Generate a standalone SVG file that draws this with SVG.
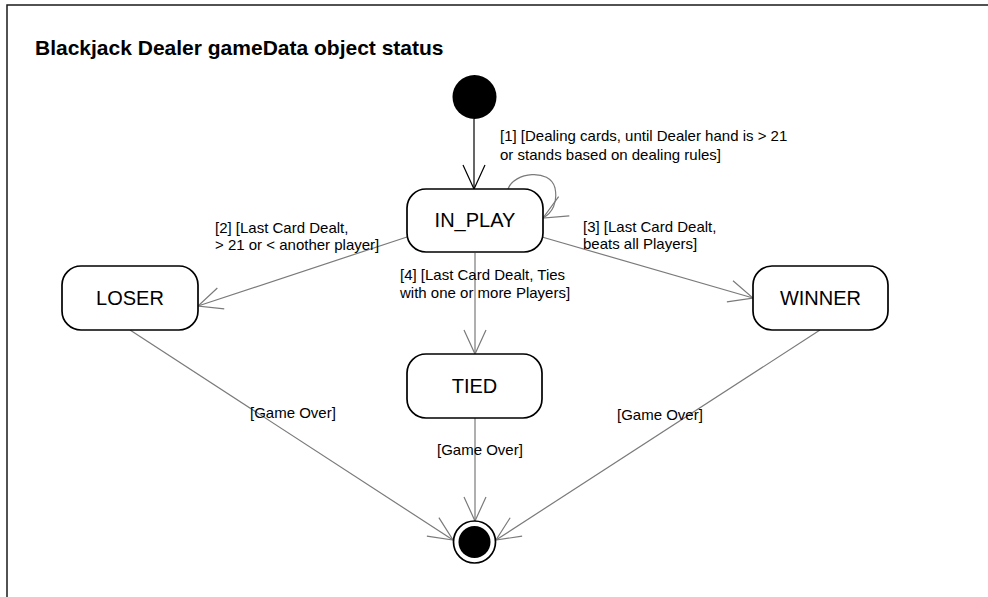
<svg xmlns="http://www.w3.org/2000/svg" width="988" height="597" viewBox="0 0 988 597">
<defs>
<style>
.frame{fill:none;stroke:#1a1a1a;stroke-width:1.5}
.state{fill:#fff;stroke:#000;stroke-width:1.7}
.name{font-family:"Liberation Sans",Arial,sans-serif;font-size:20px;fill:#000;text-anchor:middle}
.lbl{font-family:"Liberation Sans",Arial,sans-serif;font-size:15px;fill:#000}
.title{font-family:"Liberation Sans",Arial,sans-serif;font-size:21px;font-weight:bold;fill:#000}
.edge{fill:none;stroke:#7a7a7a;stroke-width:1.2}
.edge0{fill:none;stroke:#000;stroke-width:1.2}
</style>
<marker id="ag" markerUnits="userSpaceOnUse" viewBox="-28 -14 30 28" markerWidth="30" markerHeight="28" refX="0" refY="0" orient="auto">
<path d="M-24,-11 L0,0 L-24,11" fill="none" stroke="#7a7a7a" stroke-width="1.2"/>
</marker>
<marker id="ab" markerUnits="userSpaceOnUse" viewBox="-28 -14 30 28" markerWidth="30" markerHeight="28" refX="0" refY="0" orient="auto">
<path d="M-24,-11 L0,0 L-24,11" fill="none" stroke="#000" stroke-width="1.2"/>
</marker>
</defs>
<rect width="988" height="597" fill="#fff"/>
<path class="frame" d="M7,597 L7,5 L988,5"/>
<text class="title" x="35" y="55">Blackjack Dealer gameData object status</text>

<g id="connectors">
<path class="edge0" d="M474,119 L474,189" marker-end="url(#ab)"/>
<path class="edge" d="M508,189 C514,172 550,168 555,188 C558,203 552,213 543,218" marker-end="url(#ag)"/>
<path class="edge" d="M407,237 L198,306" marker-end="url(#ag)"/>
<path class="edge" d="M542,237 L753,298" marker-end="url(#ag)"/>
<path class="edge" d="M475,253 L475,354" marker-end="url(#ag)"/>
<path class="edge" d="M130,330 L453,540" marker-end="url(#ag)"/>
<path class="edge" d="M475,418 L475,521" marker-end="url(#ag)"/>
<path class="edge" d="M820,330 L496,540" marker-end="url(#ag)"/>
<text class="lbl" x="500" y="141">[1] [Dealing cards, until Dealer hand is &gt; 21</text>
<text class="lbl" x="500" y="160">or stands based on dealing rules]</text>
<text class="lbl" x="215" y="233">[2] [Last Card Dealt,</text>
<text class="lbl" x="215" y="250">&gt; 21 or &lt; another player]</text>
<text class="lbl" x="583" y="232">[3] [Last Card Dealt,</text>
<text class="lbl" x="583" y="249">beats all Players]</text>
<text class="lbl" x="400" y="280">[4] [Last Card Dealt, Ties</text>
<text class="lbl" x="400" y="298">with one or more Players]</text>
<text class="lbl" x="250" y="418">[Game Over]</text>
<text class="lbl" x="437" y="455">[Game Over]</text>
<text class="lbl" x="617" y="420">[Game Over]</text>
</g>

<g id="initial"><circle cx="474.5" cy="97" r="22" fill="#000"/></g>
<g id="in_play"><rect class="state" x="407" y="189" width="136" height="63" rx="19"/><text class="name" x="475" y="227">IN_PLAY</text></g>
<g id="loser"><rect class="state" x="62" y="266" width="136" height="64" rx="19"/><text class="name" x="130" y="305">LOSER</text></g>
<g id="winner"><rect class="state" x="753" y="266" width="135" height="64" rx="19"/><text class="name" x="820.5" y="305">WINNER</text></g>
<g id="tied"><rect class="state" x="407" y="354" width="135" height="64" rx="19"/><text class="name" x="474.5" y="393">TIED</text></g>
<g id="final"><circle cx="474.5" cy="542" r="21" fill="#fff" stroke="#000" stroke-width="1.7"/><circle cx="474.5" cy="542" r="16" fill="#000"/></g>
</svg>
